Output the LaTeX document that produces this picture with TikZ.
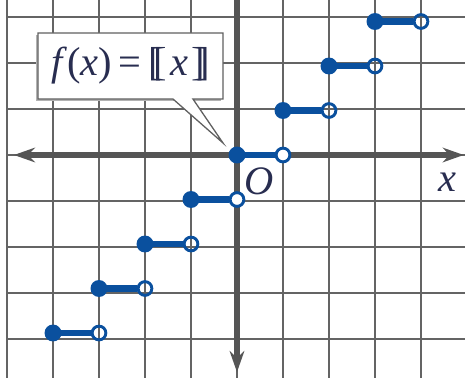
\documentclass[tikz,border=0pt]{standalone}
\usepackage{fontspec}
\setmainfont{Liberation Serif}
\usetikzlibrary{arrows.meta}
\definecolor{stepblue}{RGB}{10,80,158}
\definecolor{gridgray}{RGB}{100,100,100}
\definecolor{axisgray}{RGB}{85,85,85}
\definecolor{txtcol}{RGB}{40,45,80}
\tikzset{
  gridline/.style={draw=gridgray, line width=1.6pt},
  axisline/.style={draw=axisgray, line width=3.2pt, arrows={-Stealth[length=13pt,width=9pt]}},
  closeddot/.style={circle, fill=stepblue, inner sep=0pt, minimum size=10.5pt},
  opendot/.style={circle, draw=stepblue, line width=1.8pt, inner sep=0pt, minimum size=8.5pt},
  stepline/.style={draw=stepblue, line width=4pt},
  bigtext/.style={font=\fontsize{25}{30}\selectfont, text=txtcol, inner sep=0pt},
}
\begin{document}
\begin{tikzpicture}[x=1cm,y=0.9674cm]
\useasboundingbox (-5.152,-5.101) rectangle (4.957,3.483);
% grid
\draw[gridline] (-5,-5) grid (4.96,3.483);
% axes
\coordinate (xl) at (-4.85,0);
\coordinate (xr) at (4.93,0);
\coordinate (yt) at (0,3.483);
\coordinate (yb) at (0,-4.88);
\draw[axisline, arrows={Stealth[length=13pt,width=9pt]-Stealth[length=13pt,width=9pt]}] (xl) -- (xr);
\draw[axisline] (yt) -- (yb);
% steps
\foreach \n in {-4,...,3}{
  \pgfmathtruncatemacro{\m}{\n+1}
  \node[closeddot] (f\n) at (\n,\n) {};
  \ifnum\n=0
    \node[opendot, fill=white] (o\n) at (\m,\n) {};
  \else\ifnum\n=-1
    \node[opendot, fill=white] (o\n) at (\m,\n) {};
  \else
    \node[opendot] (o\n) at (\m,\n) {};
  \fi\fi
  \draw[stepline] (f\n.center) -- (o\n.west);
}
% callout
\fill[gray!60] ([xshift=-1.5pt,yshift=-1.5pt]-4.326,2.742) -- ++(4.022,0) -- ++(0,-1.484) -- ++(-4.022,0) -- cycle;
\filldraw[fill=white, draw=gray!75!black, line width=0.8pt]
  (-4.326,2.742) -- (-0.304,2.742) -- (-0.304,1.258) -- (-0.957,1.258)
  -- (-0.304,0.27) -- (-1.391,1.258) -- (-4.326,1.258) -- cycle;
\node[bigtext] (fx) at (-2.31,2.0) {\textit{f}(\textit{x})\,=\,[\kern-.2em[\kern.08em\textit{x}\kern.08em]\kern-.2em]};
% labels
\node[bigtext] (O) at (0.478,-0.584) {\textit{O}};
\node[bigtext] (xlab) at (4.565,-0.62) {\textit{x}};
\end{tikzpicture}
\end{document}
